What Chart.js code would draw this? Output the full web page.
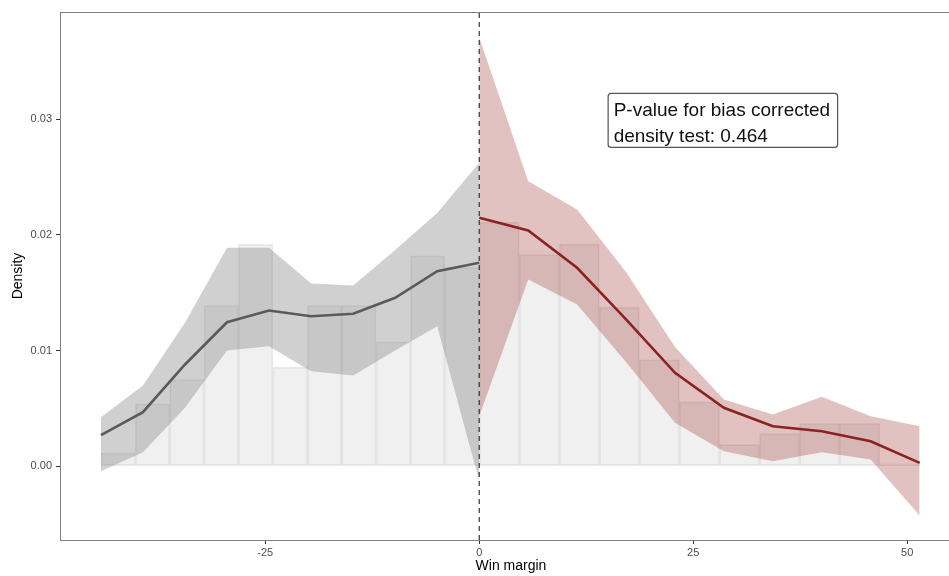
<!DOCTYPE html>
<html>
<head>
<meta charset="utf-8">
<script src="https://cdn.jsdelivr.net/npm/chart.js@4"></script>
<style>
  html, body { margin: 0; padding: 0; background: #fff; overflow: hidden; }
  #wrap { width: 962px; height: 576px; }
</style>
</head>
<body>
<div id="wrap"><canvas id="myChart" width="962" height="576"></canvas></div>
<script>
// histogram bins (centers) and heights
var leftBinCenters = [-42.19, -38.17, -34.15, -30.14, -26.12, -22.10, -18.08, -14.07, -10.05, -6.03, -2.01];
var leftBinHeights = [0.00114, 0.00538, 0.00749, 0.0139, 0.0192, 0.00856, 0.0139, 0.0139, 0.01075, 0.0182, 0.0172];
var rightBinCenters = [2.34, 7.02, 11.69, 16.37, 21.05, 25.73, 30.40, 35.08, 39.76, 44.44, 49.11];
var rightBinHeights = [0.0211, 0.0183, 0.0192, 0.01375, 0.0092, 0.00556, 0.00186, 0.00281, 0.00368, 0.00368, 0.0002];
var leftBinWidth = 4.02;
var rightBinWidth = 4.68;

// density estimates, left of cutoff
var leftX = [-44.2, -39.29, -34.38, -29.47, -24.56, -19.64, -14.73, -9.82, -4.91, 0];
var leftFit = [0.00267, 0.00466, 0.00879, 0.01245, 0.01346, 0.01297, 0.01318, 0.01456, 0.01687, 0.01759];
var leftUpper = [0.00423, 0.00697, 0.0124, 0.0189, 0.0189, 0.0158, 0.01563, 0.0187, 0.0219, 0.02625];
var leftLower = [-0.00045, 0.0012, 0.00504, 0.0100, 0.01037, 0.00821, 0.00784, 0.0100, 0.0121, -0.0013];

// right of cutoff
var rightX = [0, 5.72, 11.43, 17.15, 22.87, 28.58, 34.30, 40.02, 45.73, 51.45];
var rightFit = [0.0215, 0.02039, 0.01716, 0.0127, 0.00807, 0.00504, 0.00345, 0.00301, 0.00215, 0.00028];
var rightUpper = [0.0371, 0.02466, 0.0222, 0.0168, 0.0103, 0.00576, 0.00446, 0.00599, 0.00431, 0.00345];
var rightLower = [0.00431, 0.01615, 0.01398, 0.0090, 0.00374, 0.00128, 0.00042, 0.0012, 0.00056, -0.00429];

var xTicks = [-25, 0, 25, 50];
var yTicks = [0, 0.01, 0.02, 0.03];
var xMin = -48.98, xMax = 56.4;
var yMin = -0.0064, yMax = 0.0393;
var cutoff = 0;

var noteLines = ["P-value for bias corrected", "density test: 0.464"];
var noteX = 15.0, noteY = 0.0323;

var FONT = "'Liberation Sans', Arial, Helvetica, sans-serif";

function pts(xs, ys) {
    return xs.map(function (x, i) { return {x: x, y: ys[i]}; });
}

function thickness(w) {
    return function (ctx) {
        var s = ctx.chart.scales.x;
        return s.getPixelForValue(w) - s.getPixelForValue(0);
    };
}

var frame = {
    id: 'frame',
    afterDraw: function (chart) {
        var a = chart.chartArea, c = chart.ctx;
        c.save();
        c.strokeStyle = '#7f7f7f';
        c.lineWidth = 1;
        c.strokeRect(a.left + 0.5, a.top + 0.5, a.right - a.left - 1, a.bottom - a.top);
        c.restore();
    }
};

var note = {
    id: 'note',
    afterDraw: function (chart) {
        var c = chart.ctx;
        var px = chart.scales.x.getPixelForValue(noteX);
        var py = chart.scales.y.getPixelForValue(noteY);
        c.save();
        c.font = '19px ' + FONT;
        var w = 0;
        noteLines.forEach(function (t) { w = Math.max(w, c.measureText(t).width); });
        var bw = w + 13, bh = 54;
        c.fillStyle = '#fff';
        c.strokeStyle = '#555';
        c.lineWidth = 1.2;
        c.beginPath();
        c.roundRect(px + 0.5, py + 0.5, bw, bh, 3);
        c.fill();
        c.stroke();
        c.fillStyle = '#111';
        c.textBaseline = 'alphabetic';
        c.fillText(noteLines[0], px + 6, py + 23);
        c.fillText(noteLines[1], px + 6, py + 49.5);
        c.restore();
    }
};

var ctx2 = document.getElementById('myChart').getContext('2d');
var myChart = new Chart(ctx2, {
    type: 'line',
    data: {
        datasets: [
            {
                label: 'cutoff',
                data: [{x: cutoff, y: yMin}, {x: cutoff, y: yMax}],
                borderColor: '#333',
                borderWidth: 1.2,
                borderDash: [5, 4],
                pointRadius: 0,
                fill: false,
                order: 0
            },
            {
                label: 'left fit',
                data: pts(leftX, leftFit),
                borderColor: '#5a5a5a',
                borderWidth: 2.6,
                pointRadius: 0,
                tension: 0,
                fill: false,
                order: 1
            },
            {
                label: 'right fit',
                data: pts(rightX, rightFit),
                borderColor: '#8b2222',
                borderWidth: 2.6,
                pointRadius: 0,
                tension: 0,
                fill: false,
                order: 1
            },
            {
                label: 'left upper',
                data: pts(leftX, leftUpper),
                borderWidth: 0,
                borderColor: 'rgba(0,0,0,0)',
                backgroundColor: 'rgba(128,128,128,0.37)',
                pointRadius: 0,
                tension: 0,
                fill: '+1',
                order: 2
            },
            {
                label: 'left lower',
                data: pts(leftX, leftLower),
                borderWidth: 0,
                borderColor: 'rgba(0,0,0,0)',
                pointRadius: 0,
                tension: 0,
                fill: false,
                order: 2
            },
            {
                label: 'right upper',
                data: pts(rightX, rightUpper),
                borderWidth: 0,
                borderColor: 'rgba(0,0,0,0)',
                backgroundColor: 'rgba(155,40,40,0.29)',
                pointRadius: 0,
                tension: 0,
                fill: '+1',
                order: 2
            },
            {
                label: 'right lower',
                data: pts(rightX, rightLower),
                borderWidth: 0,
                borderColor: 'rgba(0,0,0,0)',
                pointRadius: 0,
                tension: 0,
                fill: false,
                order: 2
            },
            {
                type: 'bar',
                label: 'left bins',
                data: pts(leftBinCenters, leftBinHeights),
                backgroundColor: 'rgba(128,128,128,0.12)',
                borderColor: 'rgba(128,128,128,0.16)',
                borderWidth: 1,
                borderSkipped: false,
                grouped: false,
                barThickness: thickness(leftBinWidth),
                order: 3
            },
            {
                type: 'bar',
                label: 'right bins',
                data: pts(rightBinCenters, rightBinHeights),
                backgroundColor: 'rgba(128,128,128,0.12)',
                borderColor: 'rgba(128,128,128,0.16)',
                borderWidth: 1,
                borderSkipped: false,
                grouped: false,
                barThickness: thickness(rightBinWidth),
                order: 3
            }
        ]
    },
    options: {
        responsive: false,
        animation: false,
        events: [],
        layout: {padding: {top: 12, left: 0, right: 0, bottom: 0}},
        plugins: {
            legend: {display: false},
            tooltip: {enabled: false}
        },
        scales: {
            x: {
                type: 'linear',
                min: xMin,
                max: xMax,
                offset: false,
                afterBuildTicks: function (s) { s.ticks = xTicks.map(function (v) { return {value: v}; }); },
                afterFit: function (s) { s.height = 36; },
                ticks: {
                    color: '#4d4d4d',
                    font: {family: FONT, size: 11},
                    padding: 2,
                    maxRotation: 0,
                    callback: function (v) { return String(v); }
                },
                grid: {offset: false, drawOnChartArea: false, drawTicks: true, tickLength: 4, color: '#333'},
                border: {display: true, color: '#7f7f7f'},
                title: {display: true, text: 'Win margin', color: '#000', font: {family: FONT, size: 14}, padding: {top: 0, bottom: 1}}
            },
            y: {
                type: 'linear',
                min: yMin,
                max: yMax,
                afterBuildTicks: function (s) { s.ticks = yTicks.map(function (v) { return {value: v}; }); },
                afterFit: function (s) { s.width = 60; },
                ticks: {
                    color: '#4d4d4d',
                    font: {family: FONT, size: 11},
                    padding: 4,
                    callback: function (v) { return Number(v).toFixed(2); }
                },
                grid: {offset: false, drawOnChartArea: false, drawTicks: true, tickLength: 4, color: '#333'},
                border: {display: true, color: '#7f7f7f'},
                title: {display: true, text: 'Density', color: '#000', font: {family: FONT, size: 14}, padding: {top: 10, bottom: 0}}
            }
        }
    },
    plugins: [frame, note]
});
</script>
</body>
</html>
